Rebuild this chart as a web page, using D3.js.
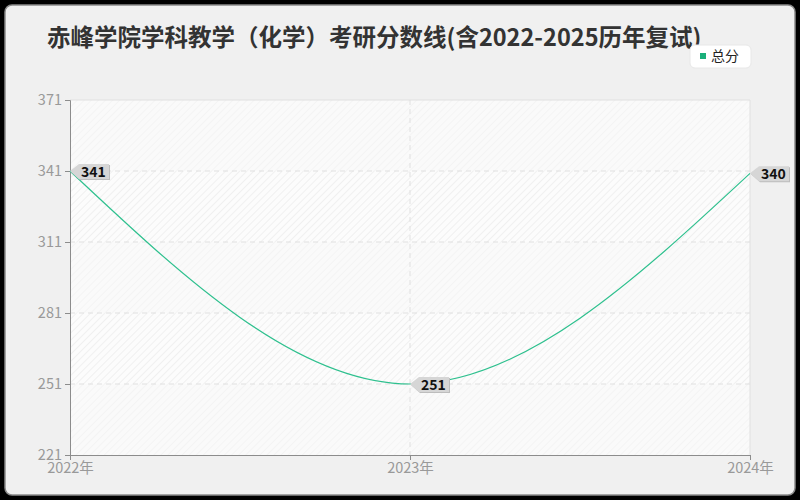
<!DOCTYPE html>
<html><head><meta charset="utf-8">
<script src="https://cdn.jsdelivr.net/npm/d3@7"></script>
<style>body{margin:0;background:#000;}svg{display:block;}</style>
</head><body>
<svg id="c" width="800" height="500"></svg>
<script>
const title = "赤峰学院学科教学（化学）考研分数线(含2022-2025历年复试)";
const categories = ["2022年","2023年","2024年"];
const seriesName = "总分";
const values = [341, 251, 340];
const yTicks = [221, 251, 281, 311, 341, 371];

const svg = d3.select("#c");
const font = "'Noto Sans CJK SC','Noto Sans',sans-serif";
const M = {l:70, r:750, t:100, b:455};

svg.append("rect").attr("x",5).attr("y",5).attr("width",790).attr("height",490)
  .attr("rx",7).attr("fill","#f0f0f0").attr("stroke","#8a8a8a").attr("stroke-width",1.5);

const defs = svg.append("defs");
const p1 = defs.append("pattern").attr("id","h1").attr("width",5).attr("height",5)
  .attr("patternUnits","userSpaceOnUse").attr("patternTransform","rotate(45)");
p1.append("rect").attr("width",5).attr("height",5).attr("fill","#fcfcfc");
p1.append("line").attr("x1",0).attr("y1",0).attr("x2",0).attr("y2",5).attr("stroke","#ececec").attr("stroke-width",1.5);
const p2 = defs.append("pattern").attr("id","h2").attr("width",5).attr("height",5)
  .attr("patternUnits","userSpaceOnUse").attr("patternTransform","rotate(45)");
p2.append("rect").attr("width",5).attr("height",5).attr("fill","#fafafa");
p2.append("line").attr("x1",0).attr("y1",0).attr("x2",0).attr("y2",5).attr("stroke","#f3f3f3").attr("stroke-width",1.5);

const x = d3.scalePoint().domain(categories).range([M.l, M.r]);
const y = d3.scaleLinear().domain([221, 371]).range([M.b, M.t]);

for (let i = 0; i < yTicks.length - 1; i++) {
  svg.append("rect").attr("x", M.l).attr("width", M.r - M.l)
    .attr("y", y(yTicks[i+1])).attr("height", y(yTicks[i]) - y(yTicks[i+1]))
    .attr("fill", i % 2 === 0 ? "url(#h2)" : "url(#h1)");
}
svg.append("line").attr("x1",M.l).attr("x2",M.r).attr("y1",M.t).attr("y2",M.t).attr("stroke","#e0e0e0");
svg.append("line").attr("x1",M.r).attr("x2",M.r).attr("y1",M.t).attr("y2",M.b).attr("stroke","#e0e0e0");

svg.append("g").selectAll("line").data(yTicks.slice(1,-1)).join("line")
  .attr("x1",M.l).attr("x2",M.r).attr("y1",d=>y(d)).attr("y2",d=>y(d))
  .attr("stroke","#e0e0e0").attr("stroke-dasharray","5,4");
svg.append("g").selectAll("line").data(categories.slice(1,-1)).join("line")
  .attr("x1",d=>x(d)).attr("x2",d=>x(d)).attr("y1",M.t).attr("y2",M.b)
  .attr("stroke","#e0e0e0").attr("stroke-dasharray","5,4");

const ya = svg.append("g").attr("transform",`translate(${M.l},0)`)
  .call(d3.axisLeft(y).tickValues(yTicks).tickSize(5).tickPadding(3).tickFormat(d3.format("d")));
const xa = svg.append("g").attr("transform",`translate(0,${M.b})`)
  .call(d3.axisBottom(x).tickSize(5).tickPadding(3));
[ya, xa].forEach(a => {
  a.select(".domain").attr("stroke","#8c8c8c");
  a.selectAll(".tick line").attr("stroke","#8c8c8c");
  a.selectAll("text").attr("fill","#999").attr("font-size",14.5).attr("font-family",font);
});
ya.selectAll(".tick text").attr("dy","0.28em");

const line = d3.line().x((d,i)=>x(categories[i])).y(d=>y(d)).curve(d3.curveMonotoneX);
svg.append("path").datum(values).attr("d", line).attr("fill","none")
  .attr("stroke","#2ec08e").attr("stroke-width",1.2);

const lab = svg.append("g").selectAll("g").data(values).join("g")
  .attr("transform",(d,i)=>`translate(${x(categories[i])},${y(d)})`);
lab.append("path").attr("d","M1,1 L10,-6 L40,-6 L40,9 L10,9 Z").attr("fill","#bdbdbd");
lab.append("path").attr("d","M0,0 L9,-7 L39,-7 L39,8 L9,8 Z").attr("fill","#d6d6d6");
lab.append("text").attr("x",11).attr("y",5.5).text(d=>d)
  .attr("font-size",14).attr("font-weight","bold").attr("fill","#111").attr("font-family",font);

svg.append("text").attr("x",47).attr("y",46).text(title)
  .attr("font-size",23.5).attr("font-weight","bold").attr("fill","#333").attr("font-family",font);

const lg = svg.append("g");
lg.append("rect").attr("x",690).attr("y",45).attr("width",61).attr("height",23).attr("rx",5)
  .attr("fill","#fff").attr("stroke","#e8e8e8");
lg.append("rect").attr("x",700).attr("y",53).attr("width",6).attr("height",6).attr("fill","#1aaf7a");
lg.append("text").attr("x",711).attr("y",61).text(seriesName).attr("font-size",14)
  .attr("fill","#222").attr("font-family",font);
</script>
</body></html>
